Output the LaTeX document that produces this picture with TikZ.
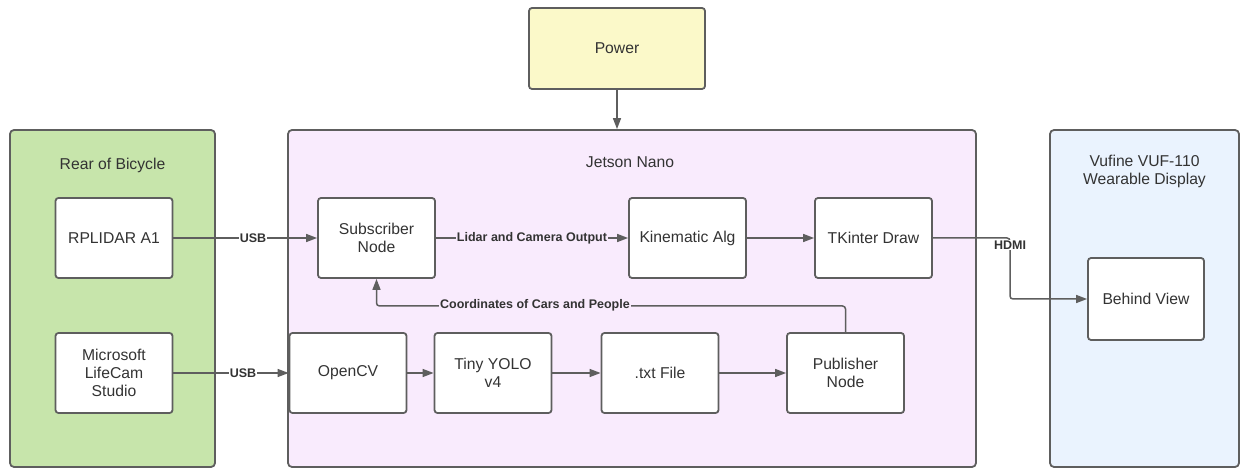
\documentclass[tikz,border=0pt]{standalone}
\usepackage{fontspec}
\setmainfont{Liberation Sans}
\usetikzlibrary{arrows.meta}
\definecolor{linec}{HTML}{5E5E5E}
\definecolor{textc}{HTML}{333333}
\definecolor{greenc}{HTML}{C7E5AB}
\definecolor{pinkc}{HTML}{F9EBFD}
\definecolor{bluec}{HTML}{EAF3FE}
\definecolor{yellowc}{HTML}{FBF9C9}
\tikzset{
  box/.style={draw=linec, line width=1.8pt, rounded corners=3pt, fill=white, text=textc,
    minimum width=117pt, minimum height=80pt, align=center, inner sep=2pt,
    font=\fontsize{15.7}{18}\selectfont},
  container/.style={draw=linec, line width=1.8pt, rounded corners=4pt, inner sep=0pt},
  title/.style={text=textc, align=center, font=\fontsize{15.7}{18}\selectfont},
  conn/.style={draw=linec, line width=1.5pt, rounded corners=3pt},
  arr/.style={conn, -{Triangle[length=11pt,width=8pt]}},
  lbl/.style={text=textc, font=\fontsize{12.5}{14}\selectfont\bfseries, inner sep=1pt},
}
\begin{document}
\begin{tikzpicture}[x=1pt,y=-1pt]
\useasboundingbox (0,0) rectangle (1243,470);
% containers
\node[container, fill=greenc, minimum width=205pt, minimum height=337pt] (rear) at (112.5,298.5) {};
\node[container, fill=pinkc, minimum width=688pt, minimum height=337pt] (jetson) at (632,298.5) {};
\node[container, fill=bluec, minimum width=189pt, minimum height=337pt] (vufine) at (1144.5,298.5) {};
\node[title] (reart) at (112.5,165) {Rear of Bicycle};
\node[title] (jetsont) at (630,162) {Jetson Nano};
\node[title] (vufinet) at (1144.5,171) {Vufine VUF-110\\Wearable Display};
% power
\node[box, fill=yellowc, minimum width=176pt, minimum height=81pt] (power) at (617,48.5) {Power};
% boxes
\node[box] (lidar) at (114,238) {RPLIDAR A1};
\node[box] (cam) at (114,373) {Microsoft\\LifeCam\\Studio};
\node[box] (sub) at (376.5,238) {Subscriber\\Node};
\node[box] (kin) at (687.5,238) {Kinematic Alg};
\node[box] (tk) at (873.5,238) {TKinter Draw};
\node[box] (cv) at (348,373) {OpenCV};
\node[box] (yolo) at (493,373) {Tiny YOLO\\v4};
\node[box] (txt) at (660,373) {.txt File};
\node[box] (pub) at (845.5,373) {Publisher\\Node};
\node[box, minimum width=116pt, minimum height=82pt] (bv) at (1146,299) {Behind View};
% connectors
\draw[arr] (power.south) -- (power.south |- jetson.north);
\draw[arr] (lidar.east) -- (sub.west);
\node[lbl, fill=white] (usb1) at (253,238) {USB};
\draw[arr] (cam.east) -- (cv.west);
\node[lbl, fill=white] (usb2) at (243,373) {USB};
\draw[arr] (sub.east) -- (kin.west);
\node[lbl, fill=pinkc] (lco) at (532,238) {Lidar and Camera Output};
\draw[arr] (kin.east) -- (tk.west);
\coordinate (hdmic) at (1010,238);
\draw[arr] (tk.east) -- (hdmic) |- (bv.west);
\node[lbl, fill=white] (hdmi) at (1010,245) {HDMI};
\draw[arr] (cv.east) -- (yolo.west);
\draw[arr] (yolo.east) -- (txt.west);
\draw[arr] (txt.east) -- (pub.west);
\coordinate (fb) at (845.5,306);
\draw[arr] (pub.north) -- (fb) -| (sub.south);
\node[lbl, fill=pinkc] (coord) at (535,305) {Coordinates of Cars and People};
\end{tikzpicture}
\end{document}
